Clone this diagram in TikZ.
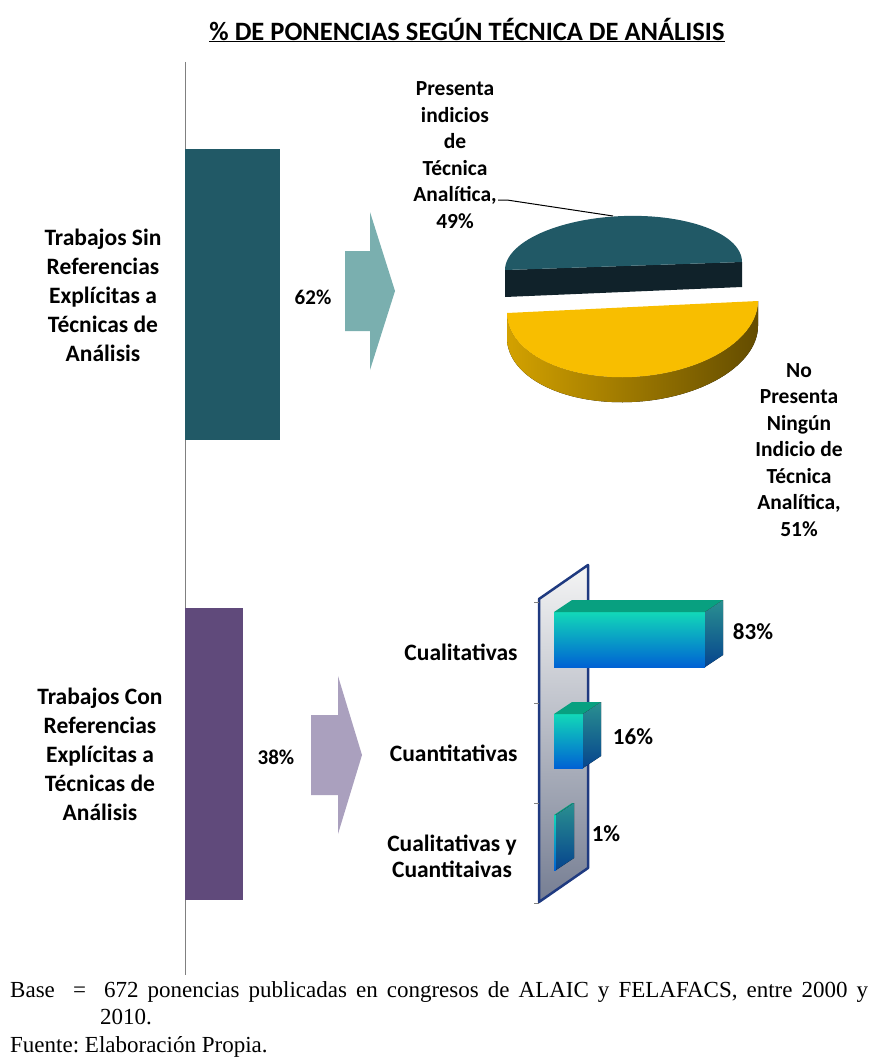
\documentclass[tikz,border=0pt]{standalone}
\usepackage{fontspec}
\setmainfont{Carlito}
\newfontfamily\footfont{Liberation Serif}
\frenchspacing
\definecolor{barsin}{HTML}{215966}
\definecolor{barcon}{HTML}{604A7B}
\definecolor{arrsin}{HTML}{7AAFAF}
\definecolor{arrcon}{HTML}{AAA0BE}
\definecolor{pietop}{HTML}{215966}
\definecolor{piedark}{HTML}{10222A}
\definecolor{pieyel}{HTML}{F8BE00}
\definecolor{wallnavy}{HTML}{1F3A80}
\definecolor{cubeA}{HTML}{12D8B8}
\definecolor{cubeB}{HTML}{22D4E2}
\definecolor{cubeC}{HTML}{0062D4}
\definecolor{cubeT}{HTML}{08A080}
\definecolor{cubeS}{HTML}{2A9090}
\definecolor{cubeN}{HTML}{06448E}
\tikzset{
  lbl/.style={font=\bfseries\fontsize{23.5}{29}\selectfont, align=center},
  pielbl/.style={font=\bfseries\fontsize{21.5}{26.5}\selectfont, align=center},
  pct/.style={font=\bfseries\fontsize{21}{25}\selectfont},
  val/.style={font=\bfseries\fontsize{23}{26}\selectfont},
  cat/.style={font=\bfseries\fontsize{23.5}{26}\selectfont},
  foot/.style={font=\footfont\fontsize{23}{27}\selectfont, inner sep=0pt, anchor=base west},
  cubefront/.style={top color=cubeA, middle color=cubeB, bottom color=cubeC},
  cubetop/.style={fill=cubeT},
  cubeside/.style={top color=cubeS, bottom color=cubeN}
}
\begin{document}
\begin{tikzpicture}[x=1pt,y=-1pt]
\useasboundingbox (0,0) rectangle (871,1057);
\node[font=\bfseries\fontsize{26.5}{30}\selectfont] (title) at (467,30) {\underline{\% DE PONENCIAS SEGÚN TÉCNICA DE ANÁLISIS}};
\draw[gray] (185,62)--(185,975);
% columnas
\fill[barsin] (185,149) rectangle (280,440);
\fill[barcon] (185,608) rectangle (243,900);
\node[lbl] (lblsin) at (103,295) {Trabajos Sin\\Referencias\\Explícitas a\\Técnicas de\\Análisis};
\node[lbl] (lblcon) at (100,754) {Trabajos Con\\Referencias\\Explícitas a\\Técnicas de\\Análisis};
\node[pct] (pctsin) at (313,297) {62\%};
\node[pct] (pctcon) at (276,757) {38\%};
% flechas
\fill[arrsin] (345,251)--(370,251)--(370,212)--(395,291)--(370,370)--(370,331)--(345,331)--cycle;
\fill[arrcon] (311,715)--(338,715)--(338,676)--(362,755)--(338,834)--(338,795)--(311,795)--cycle;
% torta
\fill[piedark] (505,270)--(742,262)--(742,287)--(505,297)--cycle;
\fill[pietop] plot[domain=180:360,samples=60] ({623.5+118.5*cos(\x)},{266+50*sin(\x)-4*cos(\x)}) -- cycle;
\fill[left color=pieyel!85!black, right color=pieyel!40!black]
  plot[domain=0:180,samples=60] ({632.5+125.5*cos(\x)},{307+70*sin(\x)-6*cos(\x)})
  -- plot[domain=180:0,samples=60] ({632.5+125.5*cos(\x)},{332+70*sin(\x)-6*cos(\x)}) -- cycle;
\fill[pieyel] plot[domain=0:180,samples=60] ({632.5+125.5*cos(\x)},{307+70*sin(\x)-6*cos(\x)}) -- cycle;
\node[pielbl] (pieA) at (455,155) {Presenta\\indicios\\de\\Técnica\\Analítica,\\49\%};
\node[pielbl] (pieB) at (799,450) {No\\Presenta\\Ningún\\Indicio de\\Técnica\\Analítica,\\51\%};
\coordinate (leadA) at (498,200);
\coordinate (pietip) at (613,216);
\draw[line width=1pt] (leadA)--++(9,0)--(pietip);
% barras 3d
\fill[top color=gray!8, bottom color=wallnavy!35!gray!85] (539,599)--(588,565)--(588,868)--(539,902)--cycle;
\draw[wallnavy, line width=2.5pt, line join=round] (539,599)--(588,565)--(588,868)--(539,902)--cycle;
\foreach \ty in {602,703,803,903} \draw[gray] (534,\ty)--(539,\ty);
\foreach \w/\ty/\h in {151/612/55, 29/714/54, 2/815/55}{
  \fill[cubefront] (554,\ty) rectangle ++(\w,\h);
  \fill[cubetop] (554,\ty)--++(18,-12)--++(\w,0)--++(-18,12)--cycle;
  \fill[cubeside] (554+\w,\ty)--++(18,-12)--++(0,\h)--++(-18,12)--cycle;
}
\node[val] (v83) at (753,632) {83\%};
\node[val] (v16) at (633,737) {16\%};
\node[val] (v1) at (606,834) {1\%};
\node[cat, anchor=east] (cat1) at (521,652) {Cualitativas};
\node[cat, anchor=east] (cat2) at (521,753) {Cuantitativas};
\node[cat, align=center] (cat3) at (452,856) {Cualitativas y\\Cuantitaivas};
% pie de figura
\node[foot] (base) at (10,997) {\makebox[858pt][s]{Base\ \ =\ \ 672 ponencias publicadas en congresos de ALAIC y FELAFACS, entre 2000 y}};
\node[foot] (base2) at (100,1024.5) {2010.};
\node[foot] (fuente) at (10,1052) {Fuente: Elaboración Propia.};
\end{tikzpicture}
\end{document}
